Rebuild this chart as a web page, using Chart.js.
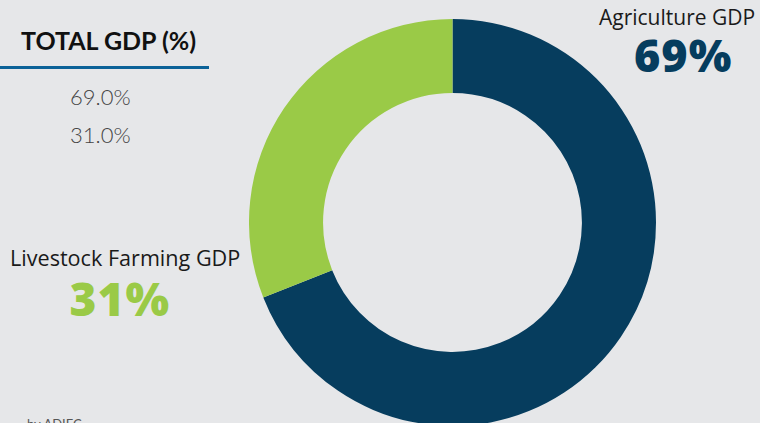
<!DOCTYPE html>
<html>
<head>
<meta charset="utf-8">
<script src="https://cdn.jsdelivr.net/npm/chart.js@4"></script>
<style>
  html, body { margin: 0; padding: 0; width: 760px; height: 423px; overflow: hidden; background: #e6e7e9; font-family: Lato, "Open Sans", sans-serif; }
  .t { position: absolute; white-space: nowrap; line-height: 1; }
  #chartWrap { position: absolute; left: 249px; top: 19px; width: 407px; height: 407px; }
  #heading { left: 21px; top: 28px; font-size: 25px; font-weight: 700; color: #111; }
  #rule { position: absolute; left: 0; top: 66px; width: 209px; height: 3px; background: #0b6298; }
  .tbl { left: 70px; font-size: 22px; font-weight: 300; color: #444; }
  .name { font-family: "Open Sans", sans-serif; color: #1a1a1a; }
  .big { font-family: "Open Sans", sans-serif; font-weight: 800; letter-spacing: 1px; }
  #src { left: 27px; top: 418px; font-size: 13px; color: #555; }
</style>
</head>
<body>
<div class="t" id="heading">TOTAL GDP (%)</div>
<div id="rule"></div>
<div id="tableRows"></div>
<div id="callouts"></div>
<div class="t" id="src">by ADIEC</div>
<div id="chartWrap"><canvas id="c" width="407" height="407"></canvas></div>
<script>
// GDP shares by sector
const sectors = ["Agriculture GDP", "Livestock Farming GDP"];
const shares = [69, 31];
const colors = ["#063d5e", "#9aca47"];

// table of shares under the heading
const rowTops = [86, 124];
const tableRows = document.getElementById("tableRows");
shares.forEach((v, i) => {
  const d = document.createElement("div");
  d.className = "t tbl";
  d.style.top = rowTops[i] + "px";
  d.textContent = v.toFixed(1) + "%";
  tableRows.appendChild(d);
});

// sector callouts: name above a large percentage
const callouts = document.getElementById("callouts");
const calloutPos = [
  { cx: 677, nameTop: 7, nameSize: 21, bigTop: 32, bigSize: 45 },
  { cx: 125, nameTop: 247, nameSize: 21.6, bigTop: 275, bigSize: 46 }
];
sectors.forEach((s, i) => {
  const p = calloutPos[i];
  const n = document.createElement("div");
  n.className = "t name";
  n.textContent = s;
  n.style.fontSize = p.nameSize + "px";
  n.style.top = p.nameTop + "px";
  callouts.appendChild(n);
  const b = document.createElement("div");
  b.className = "t big";
  b.textContent = shares[i] + "%";
  b.style.color = colors[i];
  b.style.fontSize = p.bigSize + "px";
  b.style.top = p.bigTop + "px";
  callouts.appendChild(b);
  n.style.left = (p.cx - n.offsetWidth / 2) + "px";
  b.style.left = (p.cx + (i === 0 ? 6 : -5) - b.offsetWidth / 2) + "px";
});

new Chart(document.getElementById("c"), {
  type: "doughnut",
  data: {
    labels: sectors,
    datasets: [{
      data: shares,
      backgroundColor: colors,
      borderWidth: 0,
      hoverOffset: 0
    }]
  },
  options: {
    responsive: false,
    animation: false,
    cutout: "63.6%",
    layout: { padding: 0 },
    plugins: { legend: { display: false }, tooltip: { enabled: false } }
  }
});
</script>
</body>
</html>
